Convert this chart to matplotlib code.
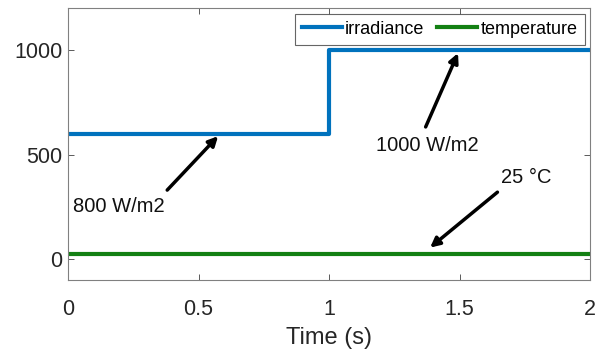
import numpy as np
import matplotlib.pyplot as plt

plt.rcParams['font.family'] = ['Liberation Sans', 'DejaVu Sans']

# step profiles
time = [0, 1, 1, 2]
irradiance = [600, 600, 1000, 1000]
temp_time = [0, 2]
temperature = [25, 25]

xticks = [0, 0.5, 1, 1.5, 2]
xtick_labels = ['0', '0.5', '1', '1.5', '2']
yticks = [0, 500, 1000]

# annotation text, text position, arrow head, arrow tail
notes = [
    ('800 W/m2', (0.02, 250), (0.575, 588), (0.38, 330)),
    ('1000 W/m2', (1.18, 545), (1.494, 985), (1.37, 632)),
    ('25 °C', (1.66, 392), (1.387, 55), (1.645, 320)),
]

fig = plt.figure(figsize=(6.04, 3.54), dpi=100)
ax = fig.add_axes([0.1126, 0.209, 0.8644, 0.768])

ax.plot(time, irradiance, color='#0072BD', lw=3, label='irradiance')
ax.plot(temp_time, temperature, color='#138013', lw=3, label='temperature')

ax.set_xlim(0, 2)
ax.set_ylim(-100, 1200)
ax.set_xticks(xticks)
ax.set_xticklabels(xtick_labels)
ax.set_yticks(yticks)
ax.tick_params(direction='in', top=True, right=True, length=4, width=0.6,
               colors='#404040', labelcolor='#262626', labelsize=15.5)
ax.tick_params(axis='x', pad=14)
ax.tick_params(axis='y', pad=4)
for s in ax.spines.values():
    s.set_color('#808080')
    s.set_linewidth(0.8)

ax.set_xlabel('Time (s)', fontsize=17, color='#262626', labelpad=5)

for txt, tpos, head, tail in notes:
    ax.annotate('', xy=head, xytext=tail,
                arrowprops=dict(arrowstyle='-|>', color='black', lw=2.5,
                                mutation_scale=14, shrinkA=0, shrinkB=0))
    ax.text(tpos[0], tpos[1], txt, fontsize=14.5, va='center', ha='left', color='#111111')

leg = ax.legend(loc='upper right', ncol=2, fontsize=13, frameon=True, fancybox=False,
                handlelength=2.2, handletextpad=0.2, columnspacing=0.7,
                borderpad=0.4, borderaxespad=0.3)
leg.get_frame().set_edgecolor('#404040')
leg.get_frame().set_linewidth(0.8)

fig.savefig('out.png', dpi=100)
